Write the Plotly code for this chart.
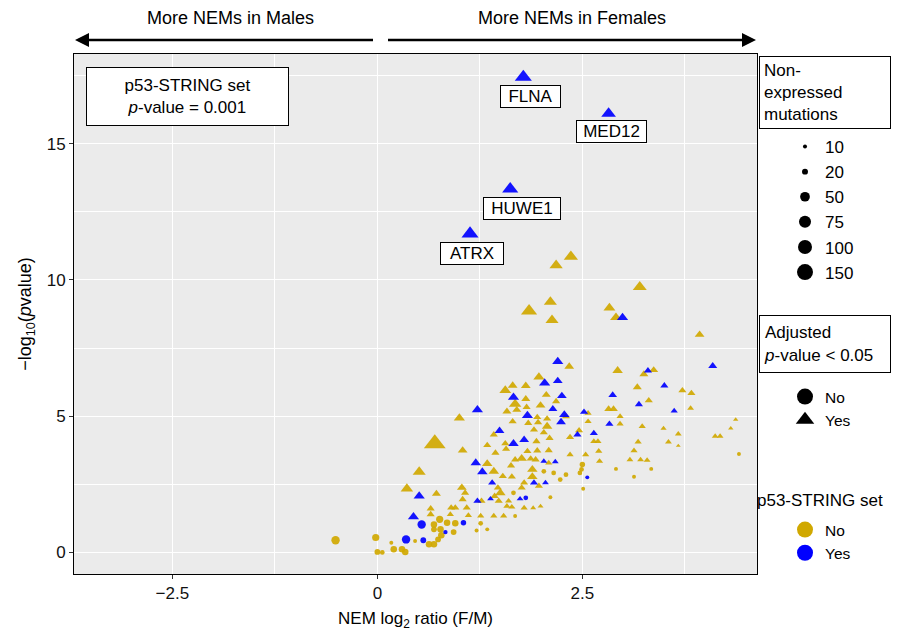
import math
import plotly.graph_objects as go

# ---------------- data ----------------
# Yellow (not in p53-STRING set), adjusted p < 0.05 (triangles)
yt_x = [2.36, 2.18, 3.20, 2.11, 1.85, 2.13, 2.83, 2.91, 3.93, 2.34, 2.93, 3.37, 3.25, 1.97, 1.65, 1.81,
        1.56, 3.17, 3.72, 3.83, 2.06, 1.81, 2.18, 1.68, 3.31, 1.99, 1.58, 1.70, 1.82, 3.82, 2.82, 2.88,
        2.57, 1.00, 2.30, 1.95, 2.07, 2.96, 1.65, 1.84, 2.96, 1.96, 2.57, 4.37, 3.23, 4.31, 3.49, 2.07,
        1.91, 2.46, 2.03, 1.42, 3.67, 1.56, 0.70, 1.94, 2.10, 2.35, 2.69, 3.18, 3.55, 4.12, 4.18, 3.67,
        1.34, 1.04, 1.44, 1.57, 1.83, 1.95, 2.09, 2.35, 2.54, 2.70, 3.13, 1.76, 1.68, 1.87, 1.93, 2.09,
        1.34, 1.63, 2.71, 3.08, 3.21, 3.29, 0.51, 1.42, 1.89, 1.53, 1.64, 1.89, 1.79, 1.97, 1.47, 1.50,
        1.43, 1.76, 0.36, 1.03, 0.72, 1.07, 1.27, 1.48, 1.60, 1.04, 0.90, 0.95, 1.09, 0.65, 1.58, 1.64,
        1.79, 1.90, 1.99, 0.65, 0.89, 1.11, 1.26, 1.42, 1.54, 2.64]
yt_y = [10.86, 10.54, 9.74, 9.19, 8.86, 8.52, 8.97, 8.62, 7.99, 6.82, 6.67, 6.69, 6.54, 6.43, 6.12, 6.11,
        5.94, 6.06, 5.94, 5.84, 5.78, 5.63, 5.54, 5.44, 5.57, 5.39, 5.17, 5.23, 5.33, 5.29, 5.26, 5.26,
        5.11, 4.93, 4.99, 4.96, 4.90, 4.99, 4.80, 4.74, 4.71, 4.77, 4.80, 4.87, 4.62, 4.55, 4.55, 4.62,
        4.50, 4.47, 4.40, 4.32, 4.34, 3.99, 3.99, 4.07, 4.19, 4.22, 4.07, 4.05, 4.05, 4.26, 4.26, 3.91,
        3.93, 3.74, 3.65, 3.79, 3.71, 3.73, 3.74, 3.58, 3.58, 3.71, 3.73, 3.44, 3.40, 3.43, 3.40, 3.28,
        3.25, 3.18, 3.34, 3.40, 3.40, 3.38, 2.95, 2.97, 3.04, 2.79, 2.77, 2.77, 2.55, 2.43, 2.37, 2.18,
        2.06, 2.37, 2.33, 2.37, 2.15, 2.18, 1.88, 1.88, 1.88, 1.94, 1.63, 1.63, 1.63, 1.60, 1.69, 1.66,
        1.63, 1.63, 1.69, 1.39, 1.39, 1.35, 1.33, 1.33, 1.33, 4.07]
yt_n = [70, 62, 68, 60, 90, 60, 50, 50, 35, 35, 40, 30, 30, 45, 35, 35,
        50, 30, 25, 25, 30, 30, 25, 55, 25, 35, 30, 30, 25, 18, 28, 28,
        20, 45, 25, 25, 25, 20, 25, 25, 20, 25, 20, 12, 20, 12, 15, 40,
        25, 25, 25, 25, 18, 25, 160, 25, 25, 25, 20, 20, 18, 18, 18, 10,
        25, 35, 25, 25, 25, 25, 25, 20, 20, 20, 20, 40, 25, 25, 25, 20,
        40, 25, 20, 18, 18, 18, 60, 40, 40, 25, 25, 40, 25, 25, 25, 40,
        25, 25, 55, 35, 30, 25, 25, 25, 20, 25, 25, 25, 25, 25, 20, 20,
        20, 14, 14, 25, 20, 20, 20, 20, 20, 20]

# Blue (in p53-STRING set), adjusted p < 0.05 (triangles)
bt_x = [1.78, 2.82, 1.62, 1.13, 2.99, 2.20, 3.30, 4.09, 2.20, 2.04, 3.50, 2.87, 2.25, 1.66, 3.19, 2.14,
        1.22, 3.62, 2.52, 2.28, 1.83, 2.24, 2.83, 1.49, 1.79, 1.66, 2.64, 2.44, 2.03, 2.17, 1.20, 1.28,
        1.40, 1.91, 2.05, 0.51, 1.22, 1.38, 1.74, 0.44]
bt_y = [17.45, 16.11, 13.34, 11.70, 8.62, 7.00, 6.67, 6.84, 6.29, 6.21, 6.12, 5.77, 5.74, 5.69, 5.43, 5.26,
        5.23, 5.19, 5.15, 5.05, 5.02, 4.78, 4.71, 4.46, 4.13, 3.99, 4.37, 4.32, 3.34, 3.32, 3.28, 2.95,
        2.55, 2.55, 2.55, 2.06, 1.88, 1.96, 1.96, 1.30]
bt_n = [100, 75, 90, 100, 45, 45, 25, 30, 35, 45, 25, 28, 35, 45, 25, 30,
        45, 20, 25, 40, 45, 35, 25, 35, 35, 40, 25, 25, 18, 18, 40, 40,
        25, 25, 18, 45, 25, 18, 18, 45]
bt_gene = ["FLNA", "MED12", "HUWE1", "ATRX"] + [""] * 36

# Yellow, adjusted p >= 0.05 (circles)
yc_x = [4.41, 2.50, 2.91, 3.34, 2.49, 2.23, 2.47, 2.15, 2.03, 2.30, 3.13, 1.66, 2.11, 2.51, 1.68, 0.76,
        0.69, 0.85, 0.95, 1.26, 0.77, 0.69, 0.93, 1.21, 1.34, 0.78, 0.74, 0.46, 0.63, 0.69, 0.20, 0.30,
        0.34, 0.17, 0.06, -0.02, 0.00, -0.51]
yc_y = [3.61, 3.22, 3.06, 3.06, 3.04, 2.67, 2.91, 2.91, 2.97, 2.85, 2.77, 2.18, 2.02, 2.33, 1.33, 1.21,
        1.02, 1.08, 1.06, 1.06, 0.84, 0.84, 0.74, 0.80, 0.84, 0.62, 0.47, 0.41, 0.29, 0.29, 0.11, 0.11,
        0.01, 0.35, -0.01, 0.54, 0.01, 0.44]
yc_n = [10, 18, 10, 10, 14, 14, 14, 14, 14, 14, 10, 14, 10, 10, 10, 30,
        25, 25, 25, 14, 25, 20, 20, 10, 10, 25, 20, 10, 25, 25, 25, 25,
        25, 10, 14, 30, 20, 40]

# Blue, adjusted p >= 0.05 (circles)
bc_x = [2.56, 1.81, 0.54, 1.05, 0.83, 0.35, 0.56]
bc_y = [2.75, 2.00, 1.02, 1.08, 0.74, 0.47, 0.44]
bc_n = [10, 14, 40, 18, 12, 40, 20]

size_breaks = [10, 20, 50, 75, 100, 150]
yesno = ["No", "Yes"]

YELLOW = "#D0A800"
BLUE = "#0000FF"
FONT = "Liberation Sans, Arial, sans-serif"
FS = 17


def msize(n, scale=1.0):
    return max(2.5, scale * (-0.5 + 1.265 * math.sqrt(n)))


fig = go.Figure()

groups = [
    (yc_x, yc_y, yc_n, YELLOW, "circle", 1.12),
    (bc_x, bc_y, bc_n, BLUE, "circle", 1.12),
    (yt_x, yt_y, yt_n, YELLOW, "triangle-up", 1.22),
    (bt_x, bt_y, bt_n, BLUE, "triangle-up", 1.22),
]
for gx, gy, gn, col, sym, sc in groups:
    fig.add_trace(go.Scatter(
        x=gx, y=gy, mode="markers", showlegend=False, hoverinfo="skip",
        marker=dict(color=col, symbol=sym, size=[msize(v, sc) for v in gn],
                    opacity=0.92, line=dict(width=0)),
    ))

# legend 1: sizes
for i, b in enumerate(size_breaks):
    fig.add_trace(go.Scatter(
        x=[None], y=[None], mode="markers", name=str(b), legend="legend",
        legendgroup="s%d" % i,
        marker=dict(color="black", symbol="circle", size=msize(b, 1.15)),
    ))
# legend 2: shapes
for lab, sym in zip(yesno, ["circle", "triangle-up"]):
    fig.add_trace(go.Scatter(
        x=[None], y=[None], mode="markers", name=lab, legend="legend2",
        marker=dict(color="black", symbol=sym, size=16),
    ))
# legend 3: colours
for lab, col in zip(yesno, [YELLOW, BLUE]):
    fig.add_trace(go.Scatter(
        x=[None], y=[None], mode="markers", name=lab, legend="legend3",
        marker=dict(color=col, symbol="circle", size=16),
    ))

W, H = 901, 631
ML, MR, MT, MB = 74, 144, 54, 57
PW, PH = W - ML - MR, H - MT - MB


def px(xp):
    return (xp - ML) / PW


def py(yp):
    return (H - MB - yp) / PH


leg_common = dict(xanchor="left", yanchor="top", bgcolor="rgba(0,0,0,0)",
                  itemsizing="trace", traceorder="normal")
fig.update_layout(
    width=W, height=H,
    margin=dict(l=ML, r=MR, t=MT, b=MB, autoexpand=False),
    paper_bgcolor="white", plot_bgcolor="#EBEBEB",
    font=dict(family=FONT, size=FS, color="black"),
    legend=dict(x=px(785), y=py(129), tracegroupgap=0,
                font=dict(size=FS, color="black", family=FONT), **leg_common),
    legend2=dict(x=px(785), y=py(380), font=dict(size=15.5, color="black", family=FONT), **leg_common),
    legend3=dict(x=px(785), y=py(513), font=dict(size=15.5, color="black", family=FONT), **leg_common),
    xaxis=dict(range=[-3.70, 4.63], tick0=0, dtick=2.5, showgrid=True, gridcolor="white", gridwidth=1.1,
               zeroline=False, showline=True, mirror=True, linecolor="black", linewidth=1,
               ticks="outside", ticklen=4, tickcolor="#333333",
               tickfont=dict(size=FS, color="#111111"),
               minor=dict(dtick=1.25, tick0=0, showgrid=True, gridcolor="white", gridwidth=0.5),
               title=dict(text="NEM log<sub>2</sub> ratio (F/M)", font=dict(size=FS), standoff=10)),
    yaxis=dict(range=[-0.8, 18.3], tick0=0, dtick=5, showgrid=True, gridcolor="white", gridwidth=1.1,
               zeroline=False, showline=True, mirror=True, linecolor="black", linewidth=1,
               ticks="outside", ticklen=4, tickcolor="#333333",
               tickfont=dict(size=FS, color="#111111"),
               minor=dict(dtick=2.5, tick0=0, showgrid=True, gridcolor="white", gridwidth=0.5),
               title=dict(text="\u2212log<sub>10</sub>(<i>p</i>value)", font=dict(size=18), standoff=10)),
)

# gene labels (ggrepel-style boxes below the points)
label_offsets = {"FLNA": (7, -19, 57), "MED12": (3, -18, 67), "HUWE1": (12, -19, 74), "ATRX": (2, -20, 60)}
for gx, gy, g in zip(bt_x, bt_y, bt_gene):
    if not g:
        continue
    dx, dy, w = label_offsets[g]
    fig.add_annotation(x=gx, y=gy, xref="x", yref="y", text=g, showarrow=False,
                       xanchor="center", yanchor="middle",
                       xshift=dx, yshift=dy, font=dict(size=FS, color="black"),
                       bgcolor="white", bordercolor="black", borderwidth=1, borderpad=1, width=w)

# inset box
fig.add_annotation(x=px(187.5), y=py(96.5), xref="paper", yref="paper", showarrow=False,
                   xanchor="center", yanchor="middle",
                   text="p53-STRING set<br><i>p</i>-value = 0.001", align="center",
                   font=dict(size=FS), bgcolor="white", bordercolor="black", borderwidth=1,
                   borderpad=4, width=193, height=49)

# legend title boxes
fig.add_annotation(x=px(759), y=py(56), xref="paper", yref="paper", xanchor="left", yanchor="top",
                   showarrow=False, text="Non-<br>expressed<br>mutations", align="left",
                   font=dict(size=FS), bgcolor="white", bordercolor="black", borderwidth=1,
                   borderpad=4, width=122, height=63)
fig.add_annotation(x=px(759), y=py(315), xref="paper", yref="paper", xanchor="left", yanchor="top",
                   showarrow=False, text="Adjusted<br><i>p</i>-value &lt; 0.05", align="left",
                   font=dict(size=FS), bgcolor="white", bordercolor="black", borderwidth=1,
                   borderpad=4, width=122, height=48)
fig.add_annotation(x=px(755), y=py(500), xref="paper", yref="paper", xanchor="left", yanchor="middle",
                   showarrow=False, text="p53-STRING set", align="left", font=dict(size=FS))

# top direction texts
fig.add_annotation(x=px(230), y=py(18), xref="paper", yref="paper", showarrow=False,
                   xanchor="center", yanchor="middle", text="More NEMs in Males", font=dict(size=18))
fig.add_annotation(x=px(572), y=py(18), xref="paper", yref="paper", showarrow=False,
                   xanchor="center", yanchor="middle", text="More NEMs in Females", font=dict(size=18))

# top direction arrows (decoration, drawn as shapes)
AY = 40
fig.add_shape(type="line", xref="paper", yref="paper", x0=px(86), x1=px(373), y0=py(AY), y1=py(AY),
              line=dict(color="black", width=2.5))
fig.add_shape(type="path", xref="paper", yref="paper", fillcolor="black", line=dict(width=0),
              path="M %f,%f L %f,%f L %f,%f Z" % (px(75), py(AY), px(89), py(AY - 7), px(89), py(AY + 7)))
fig.add_shape(type="line", xref="paper", yref="paper", x0=px(388), x1=px(744), y0=py(AY), y1=py(AY),
              line=dict(color="black", width=2.5))
fig.add_shape(type="path", xref="paper", yref="paper", fillcolor="black", line=dict(width=0),
              path="M %f,%f L %f,%f L %f,%f Z" % (px(756), py(AY), px(742), py(AY - 7), px(742), py(AY + 7)))

fig.write_html("out.html", config={"displayModeBar": False},
               post_script="document.body.style.margin='0px';")
